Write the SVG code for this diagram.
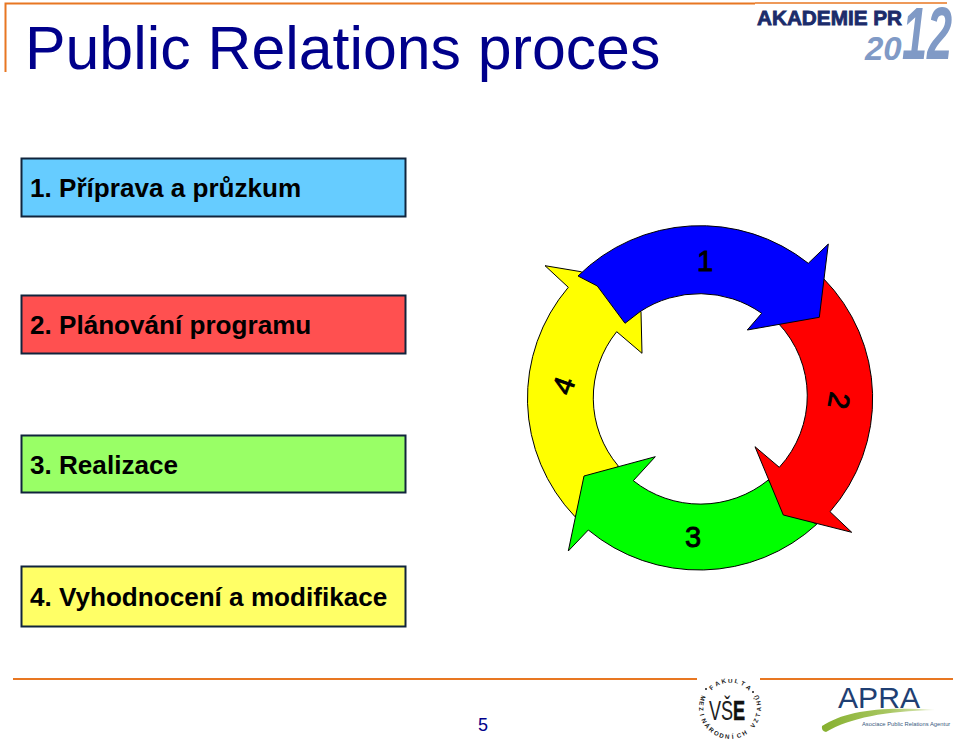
<svg xmlns="http://www.w3.org/2000/svg" width="960" height="742" viewBox="0 0 960 742">
<style>
text{font-family:"Liberation Sans",Arial,sans-serif}
.box{stroke:#10243c;stroke-width:2}
.lbl{font-size:26.100px;font-weight:bold;fill:#000}
.seg{stroke:#000;stroke-width:1;stroke-linejoin:miter}
.num{font-size:29px;fill:#000;stroke:#000;stroke-width:.9;text-anchor:middle}
.rule{stroke:#e87722;fill:none}
.sm{font-size:6.200px;font-weight:bold;fill:#1a1a1a}
</style>
<defs>
<linearGradient id="swoosh" x1="0" x2="1" y1="0" y2="0"><stop offset="0" stop-color="#86b02f"/><stop offset=".6" stop-color="#a9c763"/><stop offset="1" stop-color="#e4edc9"/></linearGradient>
</defs>
<rect width="960" height="742" fill="#fff"/>
<g id="frame">
<path class="rule" stroke-width="2" d="M5.500 72V3.500H755"/>
<path class="rule" stroke-width="1.300" d="M755 3H947"/>
<path class="rule" stroke-width="2" d="M13 679H697M760 679H953"/>
</g>
<text id="title" x="25" y="69" font-size="60.800" fill="#00008b">Public Relations proces</text>
<g id="logo-akademie">
<text x="757" y="25" font-size="19.500" font-weight="bold" fill="#1c2c6b" stroke="#1c2c6b" stroke-width=".8" textLength="145" lengthAdjust="spacingAndGlyphs">AKADEMIE PR</text>
<text x="865" y="60" font-size="33" font-weight="bold" font-style="italic" fill="#809ac6">20</text>
<text transform="translate(902 59) scale(.61 1)" font-size="74" font-weight="bold" font-style="italic" fill="#809ac6">12</text>
</g>
<g id="step1"><rect class="box" x="21.500" y="158.500" width="384" height="58" fill="#66ccff"/><text class="lbl" x="30" y="197">1. Příprava a průzkum</text></g>
<g id="step2"><rect class="box" x="21.500" y="295.500" width="384" height="58" fill="#ff5050"/><text class="lbl" x="30" y="334">2. Plánování programu</text></g>
<g id="step3"><rect class="box" x="21.500" y="435.500" width="384" height="57" fill="#99ff66"/><text class="lbl" x="30" y="474">3. Realizace</text></g>
<g id="step4"><rect class="box" x="21.500" y="566.500" width="384" height="60" fill="#ffff66"/><text class="lbl" x="30" y="606">4. Vyhodnocení a modifikace</text></g>
<g id="cycle">
<g id="arrow4">
<path class="seg" fill="#ff0" d="M575 516.700A173 172 0 0 1 568.300 287.300L545 265.700L581 271.700L641 311.700L642 353.300L616.700 331.700A107 106 0 0 0 618.300 466Z"/>
<text class="num" transform="translate(573 389) rotate(-70)">4</text>
</g>
<g id="arrow3">
<path class="seg" fill="#0f0" d="M816.700 524.300A173 172 0 0 1 588.300 530L568.300 551L584 476L655.300 456.700L633.300 480.700A107 106 0 0 0 768.300 480L790 510Z"/>
<text class="num" x="693" y="547">3</text>
</g>
<g id="arrow2">
<path class="seg" fill="#f00" d="M823.300 278.300A173 172 0 0 1 830 511.700L851.700 532.300L783.300 515L755 446.700L779.300 467.300A107 106 0 0 0 778.300 323.300L800 300Z"/>
<text class="num" transform="translate(829 399) rotate(100)">2</text>
</g>
<g id="arrow1">
<path class="seg" fill="#00f" d="M578 276A173 172 0 0 1 808.300 263.300L828.300 244L819.300 317.300L747.300 330L761.700 313.300A107 106 0 0 0 640 311.700L625 323.300L597.300 286Z"/>
<text class="num" x="705" y="271">1</text>
</g>
</g>
<text id="page" x="483" y="731" font-size="18" text-anchor="middle" fill="#00008b">5</text>
<g id="logo-vse">
<text class="sm" x="711.400 716.200 721.900 728 734.300 740.200 745.600" y="690.400 686.400 683.800 682.500 682.800 684.600 687.800" rotate="-42 -28 -14 0 14 28 42">FAKULTA</text>
<text class="sm" x="701.700 699.700 698.900 699.700 701.200 704.200 708.200 713.200 718.700 724.800 732.100 737.400 743.400 750 753.400 757 759.600 760.900 760.900 759.700" y="695 701 707.300 714.500 719.700 725.200 730.100 734.100 736.900 738.600 738.900 738.200 736.100 731 728.500 723.300 717.500 711.400 705 698.800" rotate="111 99.300 87.600 76 64.300 52.600 40.900 29.200 17.600 5.900 -5.800 -17.500 -29.200 -40.800 -52.500 -64.200 -75.900 -87.500 -99.200 -111">MEZINÁRODNÍCH VZTAHŮ</text>
<circle cx="706" cy="689" r="1" fill="#1a1a1a"/><circle cx="753" cy="692" r="1" fill="#1a1a1a"/>
<text transform="translate(709 720) scale(.67 1)" font-size="27" fill="#222">VŠ<tspan font-weight="bold" fill="#111" stroke="#111" stroke-width=".6">E</tspan></text>
</g>
<g id="logo-apra">
<text x="838" y="708" font-size="29" fill="#1f3f73" textLength="82" lengthAdjust="spacingAndGlyphs">APRA</text>
<path d="M822 726C845 711 880 706 935 710C885 711 850 718 826 732Q821 731 822 726Z" fill="url(#swoosh)"/>
<text x="862" y="726" font-size="5.800" fill="#3a5a80">Asociace Public Relations Agentur</text>
</g>
</svg>
